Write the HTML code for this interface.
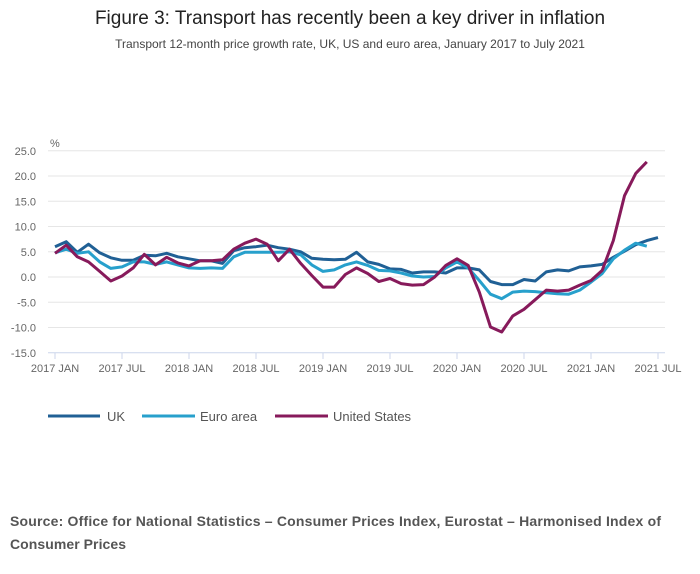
<!DOCTYPE html>
<html><head><meta charset="utf-8">
<style>
body{margin:0;background:#fff;font-family:"Liberation Sans",sans-serif;}
#wrap{position:relative;width:700px;height:574px;overflow:hidden;}
</style></head>
<body>
<div id="wrap">
<svg id="svg" width="700" height="574">
<text x="350" y="24" text-anchor="middle" font-size="19" fill="#222">Figure 3: Transport has recently been a key driver in inflation</text>
<text x="350" y="48" text-anchor="middle" font-size="12" fill="#444">Transport 12-month price growth rate, UK, US and euro area, January 2017 to July 2021</text>
<text x="50" y="147" font-size="11" fill="#666">%</text>
<g id="grid"></g><g id="xaxis"></g><g id="series"></g>
<g>
<g><line x1="48" y1="416" x2="100" y2="416" stroke="#206095" stroke-width="3"/><text x="107" y="421" font-size="13" fill="#555">UK</text></g>
<g><line x1="142" y1="416" x2="195" y2="416" stroke="#27a0cc" stroke-width="3"/><text x="200" y="421" font-size="13" fill="#555">Euro area</text></g>
<g><line x1="275" y1="416" x2="328" y2="416" stroke="#871a5b" stroke-width="3"/><text x="333" y="421" font-size="13" fill="#555">United States</text></g>
</g>
<text x="10" y="526" font-size="14" font-weight="bold" fill="#555" textLength="651">Source: Office for National Statistics – Consumer Prices Index, Eurostat – Harmonised Index of</text>
<text x="10" y="549" font-size="14" font-weight="bold" fill="#555" textLength="116">Consumer Prices</text>
</svg>
</div>
<script>
const yTicks=[25,20,15,10,5,0,-5,-10,-15];
const xTickLabels=["2017 JAN","2017 JUL","2018 JAN","2018 JUL","2019 JAN","2019 JUL","2020 JAN","2020 JUL","2021 JAN","2021 JUL"];
const uk=[6.0,7.0,4.9,6.5,4.8,3.8,3.3,3.3,4.3,4.2,4.7,4.0,3.6,3.2,3.2,2.7,5.2,5.8,6.0,6.3,5.8,5.5,5.0,3.7,3.5,3.4,3.5,4.9,3.0,2.5,1.6,1.5,0.8,1.0,1.0,0.8,1.8,1.8,1.4,-0.9,-1.5,-1.5,-0.5,-0.8,1.0,1.4,1.2,2.0,2.2,2.5,3.9,5.1,6.4,7.2,7.8];
const euro=[4.8,5.5,4.7,5.0,3.0,1.7,2.0,3.0,3.0,2.5,3.0,2.4,1.8,1.7,1.8,1.7,4.0,4.9,4.9,4.9,4.9,5.0,4.4,2.4,1.1,1.4,2.4,3.0,2.3,1.3,1.2,0.8,0.2,0.0,0.1,1.8,3.0,1.8,-0.7,-3.4,-4.3,-3.0,-2.8,-2.9,-3.1,-3.3,-3.4,-2.6,-1.0,0.7,3.6,5.3,6.7,6.1];
const us=[4.7,6.3,4.0,3.0,1.1,-0.8,0.2,1.8,4.5,2.4,3.9,2.8,2.2,3.2,3.2,3.4,5.5,6.7,7.5,6.5,3.2,5.5,2.7,0.3,-2.0,-2.0,0.5,1.8,0.7,-0.9,-0.3,-1.3,-1.6,-1.5,0.0,2.3,3.6,2.3,-3.0,-9.9,-10.9,-7.7,-6.4,-4.5,-2.6,-2.8,-2.6,-1.6,-0.7,1.3,7.2,16.1,20.5,22.8];
const NS="http://www.w3.org/2000/svg";
const x=i=>55+i*(603/54);
const y=v=>277-v*5.05;
function mk(t,a,p){const e=document.createElementNS(NS,t);for(const k in a)e.setAttribute(k,a[k]);p.appendChild(e);return e;}
const grid=document.getElementById('grid');
yTicks.forEach(v=>{
  const l=mk('line',{x1:48,x2:665,y1:y(v),y2:y(v),stroke:v===-15?'#ccd6eb':'#e6e6e6','stroke-width':1},grid);
  
  
  const t=mk('text',{x:36,y:y(v)+4,'text-anchor':'end','font-size':11,fill:'#666'},grid);
  t.textContent=v.toFixed(1);
  
  
});
const xa=document.getElementById('xaxis');
xTickLabels.forEach((s,k)=>{
  const xx=x(k*6);
  const tk=mk('line',{x1:xx,x2:xx,y1:353,y2:359,stroke:'#ccd6eb'},xa);
  
  
  const t=mk('text',{x:xx,y:372,'text-anchor':'middle','font-size':11,fill:'#666'},xa);
  t.textContent=s;
  
  
});
const sg=document.getElementById('series');
[[uk,'#206095','uk-line'],[euro,'#27a0cc','euro-area-line'],[us,'#871a5b','united-states-line']].forEach(([d,c,n])=>{
  const p=mk('path',{d:d.map((v,i)=>(i?'L':'M')+x(i).toFixed(1)+' '+y(v).toFixed(1)).join(''),fill:'none',stroke:c,'stroke-width':3,'stroke-linejoin':'round'},sg);
  
  
});
</script>
</body></html>
